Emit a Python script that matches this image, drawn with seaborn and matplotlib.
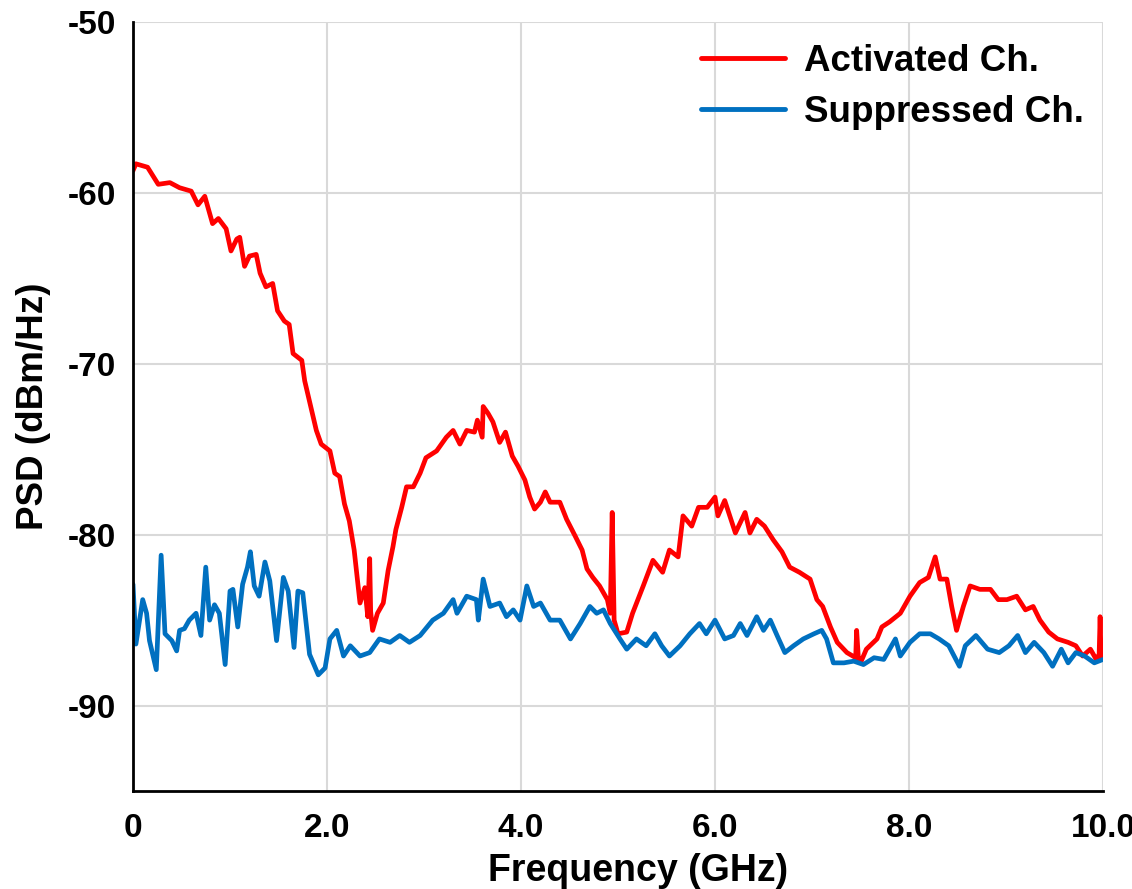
import numpy as np
import pandas as pd
import seaborn as sns
import matplotlib
matplotlib.use("Agg")
import matplotlib.pyplot as plt

# ---- data ----
act_freq = [0.00, 0.03, 0.15, 0.26, 0.38, 0.48, 0.60, 0.67, 0.74, 0.82, 0.88, 0.96, 1.01, 1.07, 1.10,
            1.15, 1.20, 1.27, 1.31, 1.37, 1.44, 1.49, 1.56, 1.61, 1.65, 1.74, 1.77, 1.84, 1.89, 1.94,
            2.03, 2.08, 2.13, 2.18, 2.23, 2.28, 2.34, 2.39, 2.42, 2.44, 2.45, 2.47, 2.52, 2.58, 2.63,
            2.68, 2.71, 2.77, 2.82, 2.89, 2.96, 3.02, 3.13, 3.23, 3.30, 3.37, 3.44, 3.52, 3.55, 3.60,
            3.61, 3.66, 3.71, 3.78, 3.84, 3.91, 3.97, 4.04, 4.09, 4.14, 4.20, 4.25, 4.30, 4.40, 4.47,
            4.56, 4.63, 4.68, 4.74, 4.81, 4.89, 4.92, 4.94, 4.96, 5.00, 5.09, 5.15, 5.26, 5.36, 5.46,
            5.53, 5.62, 5.67, 5.76, 5.83, 5.92, 6.00, 6.03, 6.10, 6.21, 6.31, 6.36, 6.43, 6.51, 6.60,
            6.69, 6.77, 6.87, 6.98, 7.05, 7.11, 7.19, 7.26, 7.36, 7.45, 7.46, 7.48, 7.50, 7.56, 7.67,
            7.72, 7.80, 7.91, 8.01, 8.11, 8.20, 8.27, 8.32, 8.39, 8.44, 8.49, 8.56, 8.63, 8.73, 8.84,
            8.92, 9.01, 9.11, 9.20, 9.28, 9.35, 9.44, 9.53, 9.64, 9.72, 9.79, 9.87, 9.93, 9.96, 9.97,
            9.98, 10.00]
act_psd = [-58.7, -58.3, -58.5, -59.5, -59.4, -59.7, -59.9, -60.7, -60.2, -61.8, -61.5, -62.1, -63.4, -62.7, -62.6,
           -64.3, -63.7, -63.6, -64.7, -65.5, -65.3, -66.9, -67.5, -67.7, -69.4, -69.8, -71.0, -72.7, -73.9, -74.7,
           -75.1, -76.4, -76.6, -78.2, -79.2, -80.9, -84.0, -83.1, -84.8, -81.4, -84.5, -85.6, -84.6, -84.0, -82.1,
           -80.7, -79.7, -78.4, -77.2, -77.2, -76.4, -75.5, -75.1, -74.3, -73.9, -74.7, -73.9, -74.0, -73.3, -74.3,
           -72.5, -72.9, -73.4, -74.6, -74.0, -75.4, -76.0, -76.8, -77.8, -78.5, -78.1, -77.5, -78.1, -78.1, -79.1,
           -80.1, -80.9, -82.0, -82.5, -83.0, -83.8, -84.6, -78.7, -85.0, -85.8, -85.7, -84.6, -83.0, -81.5, -82.2,
           -80.9, -81.3, -78.9, -79.5, -78.4, -78.4, -77.8, -78.9, -78.0, -79.9, -78.7, -79.9, -79.1, -79.5, -80.3,
           -81.0, -81.9, -82.2, -82.6, -83.8, -84.2, -85.4, -86.3, -86.9, -87.2, -85.6, -87.4, -87.5, -86.7, -86.1,
           -85.4, -85.1, -84.6, -83.6, -82.8, -82.5, -81.3, -82.6, -82.6, -84.2, -85.6, -84.2, -83.0, -83.2, -83.2,
           -83.8, -83.8, -83.6, -84.4, -84.2, -85.0, -85.7, -86.1, -86.3, -86.5, -87.1, -86.7, -87.3, -87.0, -84.8,
           -87.2, -87.3]

sup_freq = [0.00, 0.03, 0.10, 0.14, 0.17, 0.24, 0.29, 0.33, 0.40, 0.45, 0.48, 0.53, 0.58, 0.65, 0.70,
            0.75, 0.79, 0.84, 0.89, 0.95, 1.00, 1.03, 1.08, 1.13, 1.18, 1.21, 1.25, 1.30, 1.36, 1.41,
            1.48, 1.55, 1.60, 1.66, 1.70, 1.75, 1.82, 1.91, 1.98, 2.03, 2.10, 2.17, 2.24, 2.34, 2.44,
            2.54, 2.65, 2.75, 2.85, 2.96, 3.09, 3.20, 3.30, 3.34, 3.44, 3.54, 3.56, 3.61, 3.68, 3.78,
            3.85, 3.92, 3.99, 4.06, 4.13, 4.20, 4.30, 4.40, 4.51, 4.61, 4.71, 4.78, 4.85, 4.92, 5.02,
            5.09, 5.19, 5.29, 5.38, 5.45, 5.53, 5.64, 5.74, 5.84, 5.91, 6.00, 6.10, 6.19, 6.26, 6.33,
            6.43, 6.50, 6.57, 6.64, 6.72, 6.81, 6.91, 7.02, 7.10, 7.15, 7.22, 7.33, 7.43, 7.53, 7.64,
            7.74, 7.86, 7.91, 8.01, 8.11, 8.22, 8.31, 8.41, 8.52, 8.58, 8.69, 8.81, 8.93, 9.03, 9.12,
            9.20, 9.29, 9.39, 9.48, 9.57, 9.64, 9.72, 9.81, 9.91, 10.00]
sup_psd = [-82.9, -86.4, -83.8, -84.6, -86.2, -87.9, -81.2, -85.8, -86.2, -86.8, -85.6, -85.5, -85.0, -84.6, -85.9,
           -81.9, -85.0, -84.1, -84.6, -87.6, -83.3, -83.2, -85.4, -82.9, -81.9, -81.0, -83.0, -83.6, -81.6, -82.7,
           -86.2, -82.5, -83.3, -86.6, -83.3, -83.4, -87.0, -88.2, -87.8, -86.1, -85.6, -87.1, -86.5, -87.1, -86.9,
           -86.1, -86.3, -85.9, -86.3, -85.9, -85.0, -84.6, -83.8, -84.6, -83.6, -83.8, -85.0, -82.6, -84.2, -84.0,
           -84.8, -84.4, -85.0, -83.0, -84.2, -84.0, -85.0, -85.0, -86.1, -85.2, -84.2, -84.6, -84.4, -85.2, -86.1,
           -86.7, -86.1, -86.5, -85.8, -86.5, -87.1, -86.5, -85.8, -85.2, -85.8, -85.0, -86.1, -85.9, -85.2, -85.9,
           -84.8, -85.6, -85.0, -85.9, -86.9, -86.5, -86.1, -85.8, -85.6, -86.1, -87.5, -87.5, -87.4, -87.6, -87.2,
           -87.3, -86.1, -87.1, -86.3, -85.8, -85.8, -86.1, -86.5, -87.7, -86.5, -85.9, -86.7, -86.9, -86.5, -85.9,
           -86.9, -86.3, -86.9, -87.7, -86.7, -87.5, -86.9, -87.1, -87.5, -87.3]

series_names = ["Activated Ch.", "Suppressed Ch."]
series_colors = ["#FF0000", "#0070C0"]
x_ticks = [0, 2, 4, 6, 8, 10]
x_tick_labels = ["0", "2.0", "4.0", "6.0", "8.0", "10.0"]
y_ticks = [-90, -80, -70, -60, -50]

df = pd.concat([
    pd.DataFrame({"freq": act_freq, "psd": act_psd, "channel": series_names[0]}),
    pd.DataFrame({"freq": sup_freq, "psd": sup_psd, "channel": series_names[1]}),
], ignore_index=True)

sns.set_theme(style="white")
plt.rcParams["font.family"] = ["Liberation Sans", "DejaVu Sans"]
plt.rcParams["font.weight"] = "bold"
plt.rcParams["axes.unicode_minus"] = False
for key in ["text.color", "axes.labelcolor", "xtick.color", "ytick.color"]:
    plt.rcParams[key] = "black"

fig = plt.figure(figsize=(11.32, 8.89), dpi=100)
ax = fig.add_axes([0.1175, 0.1102, 0.8569, 0.8651])

sns.lineplot(data=df, x="freq", y="psd", hue="channel", hue_order=series_names,
             palette=dict(zip(series_names, series_colors)), estimator=None, sort=False,
             linewidth=3.4, ax=ax)

ax.set_xlim(0, 10)
ax.set_ylim(-95, -50)
ax.set_xticks(x_ticks)
ax.set_xticklabels(x_tick_labels)
ax.set_yticks(y_ticks)
ax.grid(True, color="#D9D9D9", linewidth=1.5)
ax.set_axisbelow(True)
for s in ["top", "right"]:
    ax.spines[s].set_visible(False)
for s in ["left", "bottom"]:
    ax.spines[s].set_color("black")
    ax.spines[s].set_linewidth(2.0)
ax.tick_params(axis="both", length=0, labelsize=24, colors="black")
ax.tick_params(axis="x", pad=16)
ax.tick_params(axis="y", pad=12)
for lab in ax.get_xticklabels() + ax.get_yticklabels():
    lab.set_fontweight("bold")

ax.set_xlabel("Frequency (GHz)", fontsize=27, fontweight="bold", labelpad=6)
ax.xaxis.label.set_x(0.521)
ax.set_ylabel("PSD (dBm/Hz)", fontsize=26.5, fontweight="bold", labelpad=12)

leg = ax.legend(loc="upper right", bbox_to_anchor=(0.999, 0.995), frameon=False,
                prop={"size": 26.5, "weight": "bold"}, handlelength=2.3,
                handletextpad=0.5, labelspacing=0.42, borderaxespad=0.1)
for line in leg.get_lines():
    line.set_linewidth(3.5)
for t in leg.get_texts():
    t.set_color("black")

fig.savefig("out.png", dpi=100)
